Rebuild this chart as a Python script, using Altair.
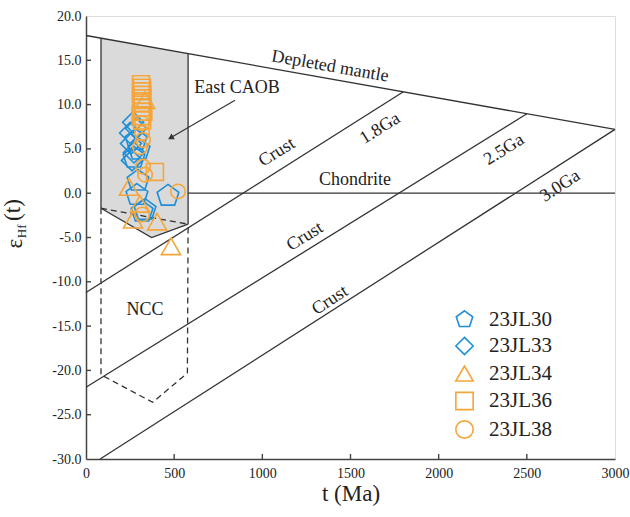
import altair as alt
import pandas as pd

SERIF = "Liberation Serif"
BLUE = "#1E8FD8"
ORANGE = "#F5A53A"
INK = "#333333"

series_names = ["23JL30", "23JL33", "23JL34", "23JL36", "23JL38"]

# 23JL30 pentagons
s30_t = [284, 301, 272, 295, 289, 318, 335, 465]
s30_e = [6.0, 4.9, 4.0, 1.4, -0.2, -2.1, -1.9, -0.3]
# 23JL33 diamonds
s33_t = [267, 284, 250, 255, 272, 261]
s33_e = [8.0, 7.3, 6.8, 5.6, 4.6, 3.7]
# 23JL34 triangles
s34_t = [335, 244, 306, 267, 403, 482]
s34_e = [10.5, 0.7, -1.2, -3.0, -3.2, -6.0]
# 23JL36 squares
s36_t = [312, 318, 312, 320, 315, 312, 318, 325, 310, 318, 391]
s36_e = [12.3, 11.9, 11.5, 11.1, 10.7, 10.2, 9.7, 9.2, 8.7, 8.2, 2.4]
# 23JL38 circles
s38_t = [318, 318, 323, 306, 323, 335, 318, 522]
s38_e = [7.9, 6.8, 6.0, 5.2, 3.0, 2.1, -2.4, 0.2]

# reference lines
dm_t, dm_e = [0, 3000], [17.8, 7.2]
chon_t, chon_e = [579, 3000], [0, 0]
c18_t, c18_e = [0, 1800], [-11.2, 11.45]
c25_t, c25_e = [0, 2500], [-21.9, 8.97]
c30_t, c30_e = [80, 3000], [-30, 7.2]
caobL_t, caobL_e = [85, 85], [17.5, -1.7]
caobB_t, caobB_e = [85, 372, 579], [-1.7, -5.0, -3.5]
caobR_t, caobR_e = [579, 579], [-3.5, 15.75]
nccT_t, nccT_e = [85, 579], [-1.7, -3.5]
nccB_t, nccB_e = [85, 85, 378, 575, 579], [-1.7, -20.5, -23.6, -20.3, -3.5]
# grey field (top on DM line, bottom on CAOB bottom)
area_t = [85, 372, 579]
area_top = [17.5, 16.49, 15.75]
area_bot = [-1.7, -5.0, -3.5]

# annotations
lab_text = ["Depleted mantle", "East CAOB", "Crust", "1.8Ga", "Chondrite",
            "Crust", "2.5Ga", "Crust", "3.0Ga", "NCC"]
lab_t = [1384, 857, 1083, 1668, 1526, 1242, 2371, 1384, 2689, 335]
lab_e = [14.3, 11.9, 4.6, 7.3, 1.5, -4.9, 4.9, -12.1, 0.8, -13.2]
lab_angle = [10, 0, 328, 328, 0, 328, 328, 327, 327, 0]

arrow_t, arrow_e = [845, 480], [10.5, 6.25]

x_ticks = [500, 1000, 1500, 2000, 2500]
y_ticks = [-25, -20, -15, -10, -5, 0, 5, 10, 15]

PENT = "M0,-1 L0.951,-0.309 L0.588,0.809 L-0.588,0.809 L-0.951,-0.309 Z"

# ---------- tables ----------
rows = []
for name, ts, es in zip(series_names, [s30_t, s33_t, s34_t, s36_t, s38_t],
                        [s30_e, s33_e, s34_e, s36_e, s38_e]):
    for t, e in zip(ts, es):
        rows.append({"t": t, "e": e, "series": name})
pts = pd.DataFrame(rows)

def segs(pairs):
    out = []
    for i, (ts, es) in enumerate(pairs):
        for j, (t, e) in enumerate(zip(ts, es)):
            out.append({"seg": i, "o": j, "t": t, "e": e})
    return pd.DataFrame(out)

solid = segs([(dm_t, dm_e), (chon_t, chon_e), (c18_t, c18_e), (c25_t, c25_e),
              (c30_t, c30_e), (caobL_t, caobL_e), (caobB_t, caobB_e), (caobR_t, caobR_e)])
dashed = segs([(nccT_t, nccT_e), (nccB_t, nccB_e)])
area = pd.DataFrame({"t": area_t, "e": area_top, "e2": area_bot})
labels = pd.DataFrame({"t": lab_t, "e": lab_e, "txt": lab_text, "ang": lab_angle})
arrow = pd.DataFrame({"t": arrow_t, "e": arrow_e, "o": [0, 1]})
head = pd.DataFrame({"t": [arrow_t[1]], "e": [arrow_e[1]]})
xt = pd.DataFrame({"t": x_ticks, "e": [-30] * len(x_ticks), "e2": [-29.43] * len(x_ticks)})
yt = pd.DataFrame({"t": [0] * len(y_ticks), "t2": [28.4] * len(y_ticks), "e": y_ticks})
ytitle = pd.DataFrame({"t": [-403, -365, -414], "e": [-5.7, -4.3, -1.9],
                       "txt": ["ε", "Hf", "(t)"], "fs": [23, 13, 23]})

X = alt.X("t:Q", scale=alt.Scale(domain=[0, 3000], nice=False, zero=False),
          axis=alt.Axis(values=[0, 500, 1000, 1500, 2000, 2500, 3000], ticks=False, grid=False,
                        format="d",
                        title="t (Ma)", titleFont=SERIF, titleFontSize=23, titleFontWeight="normal",
                        titleColor="#222", titlePadding=2, labelFont=SERIF, labelFontSize=14,
                        labelColor="#222", labelPadding=7, domainColor="#444", domainWidth=1.5,
                        labelFlush=False))
Y = alt.Y("e:Q", scale=alt.Scale(domain=[-30, 20], nice=False, zero=False),
          axis=alt.Axis(values=[-30, -25, -20, -15, -10, -5, 0, 5, 10, 15, 20], ticks=False,
                        grid=False, title=None, labelFont=SERIF, labelFontSize=14,
                        labelColor="#222", labelPadding=5, domainColor="#444", domainWidth=1.5,
                        labelFlush=False,
                        labelExpr="replace(format(datum.value, '.1f'), '\u2212', '-')"))

area_layer = alt.Chart(area).mark_area(color="#dadada", opacity=1).encode(
    x=X, y=Y, y2="e2:Q")

solid_layer = alt.Chart(solid).mark_line(color=INK, strokeWidth=1.3).encode(
    x="t:Q", y="e:Q", detail="seg:N", order="o:Q")
dashed_layer = alt.Chart(dashed).mark_line(color=INK, strokeWidth=1.3, strokeDash=[6, 4]).encode(
    x="t:Q", y="e:Q", detail="seg:N", order="o:Q")

pts_layer = alt.Chart(pts).mark_point(filled=False, strokeWidth=1.6, opacity=1).encode(
    x="t:Q", y="e:Q",
    color=alt.Color("series:N", scale=alt.Scale(domain=series_names,
                                                range=[BLUE, BLUE, ORANGE, ORANGE, ORANGE]),
                    legend=alt.Legend(title=None, orient="none", legendX=368, legendY=293,
                                      labelFont=SERIF, labelFontSize=21, labelColor="#222",
                                      symbolSize=300, symbolStrokeWidth=1.6, rowPadding=3.5,
                                      labelOffset=14)),
    shape=alt.Shape("series:N", scale=alt.Scale(domain=series_names,
                                                range=[PENT, "diamond", "triangle-up", "square", "circle"])),
    size=alt.Size("series:N", scale=alt.Scale(domain=series_names,
                                              range=[520, 210, 340, 190, 420]), legend=None),
)

label_layer = alt.Chart(labels).mark_text(font=SERIF, fontSize=18, color="#222").encode(
    x="t:Q", y="e:Q", text="txt:N", angle=alt.Angle("ang:Q", scale=None))

arrow_layer = alt.Chart(arrow).mark_line(color=INK, strokeWidth=1.2).encode(
    x="t:Q", y="e:Q", order="o:Q")
head_layer = alt.Chart(head).mark_point(shape="triangle-up", filled=True, color=INK,
                                        size=45, angle=240, opacity=1).encode(x="t:Q", y="e:Q")

xt_layer = alt.Chart(xt).mark_rule(color="#444", strokeWidth=1.4).encode(
    x="t:Q", y="e:Q", y2="e2:Q")
yt_layer = alt.Chart(yt).mark_rule(color="#444", strokeWidth=1.4).encode(
    x="t:Q", x2="t2:Q", y="e:Q")

ytitle_layer = alt.Chart(ytitle).mark_text(font=SERIF, color="#222", angle=270).encode(
    x="t:Q", y="e:Q", text="txt:N", size=alt.Size("fs:Q", scale=None))

chart = alt.layer(
    area_layer, solid_layer, dashed_layer, arrow_layer, head_layer,
    label_layer, pts_layer, xt_layer, yt_layer, ytitle_layer
).resolve_scale(size="independent").properties(
    width=529, height=443,
    autosize=alt.AutoSizeParams(type="none"),
    padding={"left": 86, "top": 16, "right": 15, "bottom": 58},
).configure_view(stroke="#444", strokeWidth=1.5).configure(background="white")

chart.save("out.html", embed_options={"renderer": "svg", "actions": False})
